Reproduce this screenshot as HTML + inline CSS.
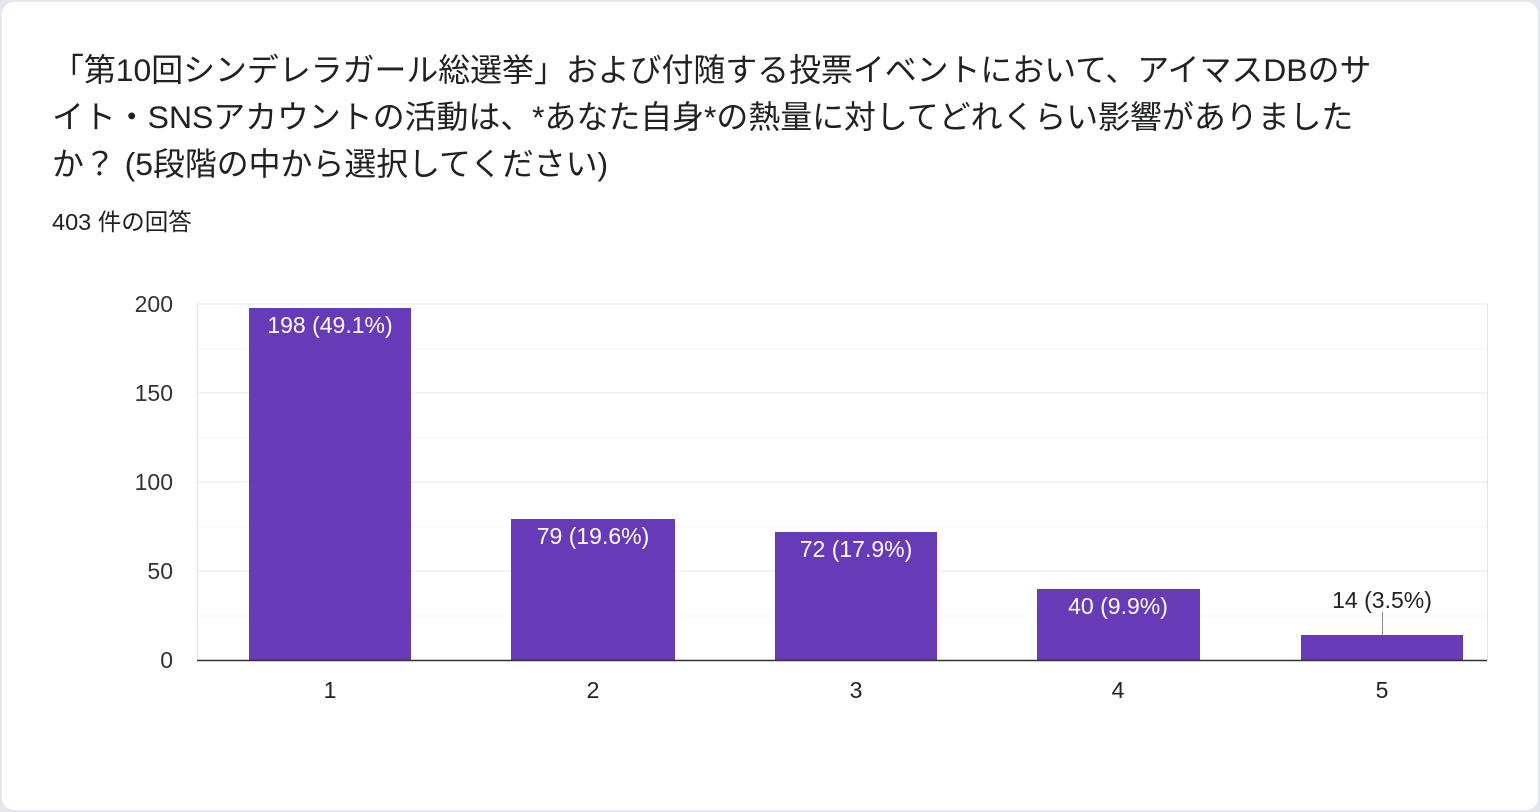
<!DOCTYPE html>
<html><head><meta charset="utf-8"><style>
body{margin:0;width:1540px;height:812px;background:#e6e6ee;font-family:"Liberation Sans","Noto Sans CJK JP",sans-serif;position:relative;overflow:hidden}
.card{position:absolute;left:2px;top:2px;width:1536px;height:808px;background:#fff;border-radius:12px}
.t{position:absolute;left:52px;font-size:31.9px;color:#202124;white-space:nowrap;line-height:47px}
.s{position:absolute;left:52px;top:203px;font-size:23.5px;color:#202124}
</style></head><body><div class="card"></div>
<div class="t" style="top:47px">「第10回シンデレラガール総選挙」および付随する投票イベントにおいて、アイマスDBのサ</div>
<div class="t" style="top:94px">イト・SNSアカウントの活動は、*あなた自身*の熱量に対してどれくらい影響がありました</div>
<div class="t" style="top:141px">か？ (5段階の中から選択してください)</div>
<div class="s">403 件の回答</div>
<svg style="position:absolute;left:0;top:0" width="1540" height="812" font-family="Liberation Sans, sans-serif">
<g stroke="#f3f3f3" stroke-width="1">
<line x1="197" x2="1487" y1="349" y2="349"/><line x1="197" x2="1487" y1="438" y2="438"/><line x1="197" x2="1487" y1="527" y2="527"/><line x1="197" x2="1487" y1="616" y2="616"/></g>
<g stroke="#e4e4e4" stroke-width="1">
<line x1="197" x2="1487" y1="304" y2="304"/><line x1="197" x2="1487" y1="393" y2="393"/><line x1="197" x2="1487" y1="482" y2="482"/><line x1="197" x2="1487" y1="571" y2="571"/>
<line x1="197.5" x2="197.5" y1="304" y2="660"/><line x1="1487.5" x2="1487.5" y1="304" y2="660"/></g>
<g fill="#673ab7">
<rect x="249" y="308" width="162" height="352"/>
<rect x="511" y="519" width="164" height="141"/>
<rect x="775" y="532" width="162" height="128"/>
<rect x="1037" y="589" width="163" height="71"/>
<rect x="1301" y="635" width="162" height="25"/></g>
<line x1="197" x2="1487" y1="660.5" y2="660.5" stroke="#333" stroke-width="1.5"/>
<line x1="1382.5" x2="1382.5" y1="612" y2="635" stroke="#888"/>
<g font-size="23" fill="#fff" text-anchor="middle">
<text x="330" y="333">198 (49.1%)</text><text x="593" y="544">79 (19.6%)</text><text x="856" y="557">72 (17.9%)</text><text x="1118" y="614">40 (9.9%)</text></g>
<text x="1382" y="608" font-size="23" fill="#222" text-anchor="middle">14 (3.5%)</text>
<g font-size="23" fill="#333" text-anchor="end">
<text x="173" y="312">200</text><text x="173" y="401">150</text><text x="173" y="490">100</text><text x="173" y="579">50</text><text x="173" y="668">0</text></g>
<g font-size="23" fill="#222" text-anchor="middle">
<text x="330" y="698">1</text><text x="593" y="698">2</text><text x="856" y="698">3</text><text x="1118" y="698">4</text><text x="1382" y="698">5</text></g>
</svg></body></html>
